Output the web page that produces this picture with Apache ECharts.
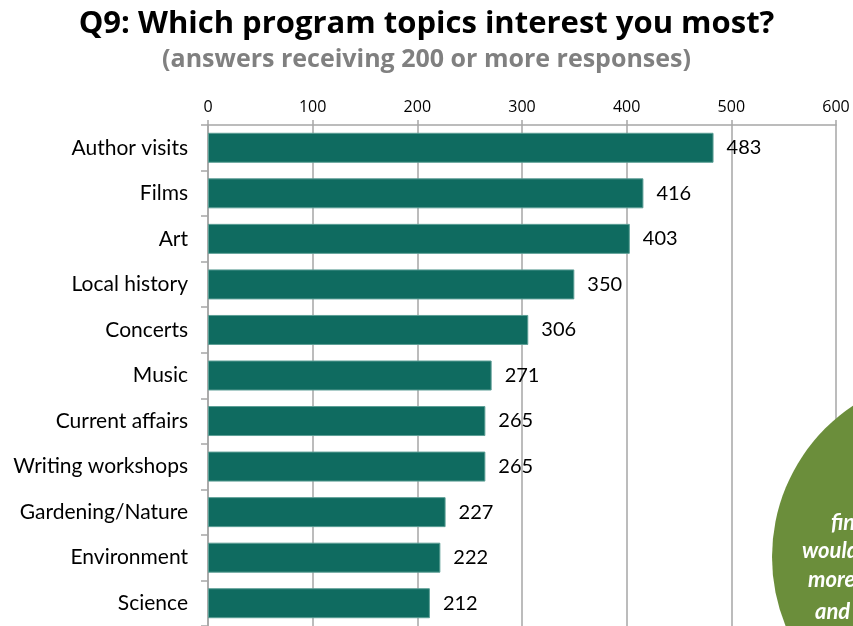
<!DOCTYPE html>
<html>
<head>
<meta charset="utf-8">
<title>Q9: Which program topics interest you most?</title>
<script src="https://cdn.jsdelivr.net/npm/echarts@6/dist/echarts.min.js"></script>
<style>
  html, body { margin: 0; padding: 0; background: #ffffff; }
  #chart { width: 853px; height: 626px; }
</style>
</head>
<body>
<div id="chart"></div>
<script>
// Program topics, listed top to bottom
const topics = [
  'Author visits', 'Films', 'Art', 'Local history', 'Concerts', 'Music',
  'Current affairs', 'Writing workshops', 'Gardening/Nature', 'Environment', 'Science'
];
// Number of responses per topic
const responses = [483, 416, 403, 350, 306, 271, 265, 265, 227, 222, 212];
// Value axis range and step
const axisMin = 0;
const axisMax = 600;
const axisStep = 100;
// Callout text lines
const calloutLines = [
  'findings show that',
  'would like to see',
  'more evening',
  'and weekend events'
];

const chart = echarts.init(document.getElementById('chart'), null, { renderer: 'canvas' });

const labelFont = 'Lato, "Open Sans", sans-serif';
const headFont = '"Open Sans", "Liberation Sans", sans-serif';
const tickFont = '"Open Sans", "Liberation Sans", sans-serif';
const gridColor = '#a6a6a6';

const calloutX = [831, 802, 808, 815];
const calloutY = [523, 551, 580, 612];

chart.setOption({
  backgroundColor: '#ffffff',
  animation: false,
  title: [
    {
      text: 'Q9: Which program topics interest you most?',
      left: 'center',
      top: 4,
      textStyle: { fontFamily: headFont, fontWeight: 'bold', fontSize: 31, color: '#000000' }
    },
    {
      text: '(answers receiving 200 or more responses)',
      left: 'center',
      top: 42,
      textStyle: { fontFamily: headFont, fontWeight: 'bold', fontSize: 25, color: '#808080' }
    }
  ],
  grid: { left: 208, right: 17, top: 125, bottom: -4, containLabel: false },
  xAxis: {
    type: 'value',
    position: 'top',
    min: axisMin,
    max: axisMax,
    interval: axisStep,
    axisLine: { show: true, lineStyle: { color: gridColor, width: 1.5 } },
    axisTick: { show: true, inside: false, length: 5, lineStyle: { color: gridColor, width: 1.5 } },
    axisLabel: { fontFamily: tickFont, fontSize: 16, color: '#000000', margin: 10 },
    splitLine: { show: true, lineStyle: { color: gridColor, width: 1.5 } }
  },
  yAxis: {
    type: 'category',
    data: topics,
    inverse: true,
    axisLine: { show: true, lineStyle: { color: gridColor, width: 1.5 } },
    axisTick: { show: true, length: 7, alignWithLabel: false, lineStyle: { color: gridColor, width: 1.5 } },
    axisLabel: {
      fontFamily: labelFont, fontSize: 21, color: '#000000', margin: 20,
      padding: [6, 0, 0, 0]
    }
  },
  series: [
    {
      type: 'bar',
      data: responses,
      barWidth: 30,
      itemStyle: { color: '#0f6b60', borderColor: '#5c9e95', borderWidth: 1 },
      label: {
        show: true,
        position: 'right',
        distance: 13,
        fontFamily: labelFont,
        fontSize: 20,
        color: '#000000',
        padding: [5, 0, 0, 0]
      }
    }
  ],
  graphic: [
    {
      type: 'circle',
      shape: { cx: 954, cy: 557, r: 182 },
      style: { fill: '#6b8e3b' },
      z: 100
    }
  ].concat(calloutLines.map((t, i) => ({
    type: 'text',
    x: calloutX[i],
    y: calloutY[i],
    style: {
      text: t,
      fill: '#ffffff',
      font: 'italic bold 22px Lato, "Open Sans", sans-serif',
      textVerticalAlign: 'middle'
    },
    z: 101
  })))
});
</script>
</body>
</html>
